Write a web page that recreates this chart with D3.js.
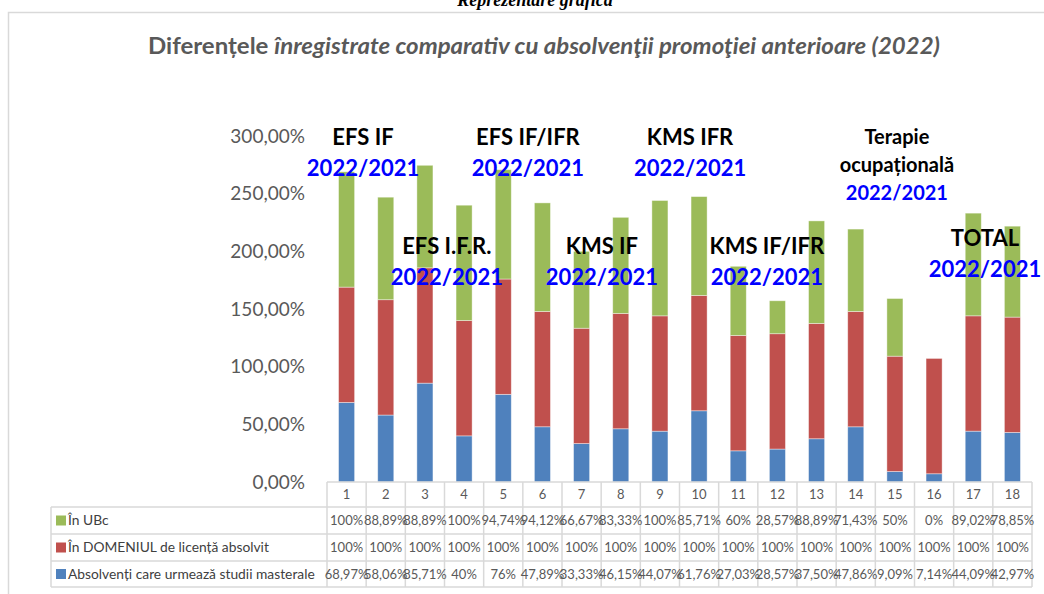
<!DOCTYPE html>
<html>
<head>
<meta charset="utf-8">
<script src="https://cdn.jsdelivr.net/npm/d3@7"></script>
<style>
  body { margin: 0; background: #fff; }
  svg { display: block; font-family: Lato, 'Open Sans', sans-serif; }
</style>
</head>
<body>
<div id="canvas"></div>
<script>
// data
var categories = ['1','2','3','4','5','6','7','8','9','10','11','12','13','14','15','16','17','18'];
var seriesNames = ['Absolvenți care urmează studii masterale', 'În DOMENIUL de licență absolvit', 'În UBc'];
var masterale = [68.97, 58.06, 85.71, 40, 76, 47.89, 33.33, 46.15, 44.07, 61.76, 27.03, 28.57, 37.50, 47.86, 9.09, 7.14, 44.09, 42.97];
var domeniu = [100, 100, 100, 100, 100, 100, 100, 100, 100, 100, 100, 100, 100, 100, 100, 100, 100, 100];
var ubc = [100, 88.89, 88.89, 100, 94.74, 94.12, 66.67, 83.33, 100, 85.71, 60, 28.57, 88.89, 71.43, 50, 0, 89.02, 78.85];
var yTicks = [0, 50, 100, 150, 200, 250, 300];

// text notes over the bars: [lines, category position, value]
var notes = [
  { lines: ['EFS IF', '2022/2021'], at: 0.42, v: 299 },
  { lines: ['EFS I.F.R.', '2022/2021'], at: 2.56, v: 204 },
  { lines: ['EFS IF/IFR', '2022/2021'], at: 4.63, v: 299 },
  { lines: ['KMS IF', '2022/2021'], at: 6.52, v: 204 },
  { lines: ['KMS IFR', '2022/2021'], at: 8.77, v: 299 },
  { lines: ['KMS IF/IFR', '2022/2021'], at: 10.73, v: 204 },
  { lines: ['Terapie', 'ocupațională', '2022/2021'], at: 14.05, v: 299, small: true },
  { lines: ['TOTAL', '2022/2021'], at: 16.3, v: 211 }
];

var chart = {
  colors: ['#4f81bd', '#c0504d', '#9bbb59'],
  grey: '#595959',
  line: '#d9d9d9',

  init: function() {
    chart.svg = d3.select('#canvas').append('svg')
      .attr('width', 1044)
      .attr('height', 594);

    chart.x = d3.scaleBand().domain(categories).range([327, 1032])
      .paddingInner(0.59).paddingOuter(0.295);
    chart.y = d3.scaleLinear().domain([0, 300]).range([482, 136]);

    chart.frame();
    chart.axis();
    chart.bars();
    chart.table();
    chart.annotate();
  },

  frame: function() {
    var svg = chart.svg;
    svg.append('text')
      .attr('x', 535).attr('y', 6)
      .attr('text-anchor', 'middle')
      .style('font-family', "'Liberation Serif', serif")
      .style('font-weight', 'bold').style('font-style', 'italic')
      .style('font-size', '18px')
      .text('Reprezentare grafică');

    // chart area border
    svg.append('path')
      .attr('d', 'M8.5,600 V12.5 H1050')
      .attr('fill', 'none').attr('stroke', chart.line).attr('stroke-width', 1.5);

    var t = svg.append('text')
      .attr('x', 544).attr('y', 54)
      .attr('text-anchor', 'middle')
      .attr('fill', chart.grey)
      .attr('textLength', 792).attr('lengthAdjust', 'spacingAndGlyphs')
      .style('font-weight', 'bold').style('font-size', '22px');
    t.append('tspan').text('Diferențele ');
    t.append('tspan').style('font-style', 'italic')
      .text('înregistrate comparativ cu absolvenţii promoţiei anterioare (2022)');
  },

  axis: function() {
    chart.svg.append('g').selectAll('text').data(yTicks).enter()
      .append('text')
      .attr('x', 305)
      .attr('y', function(d) { return chart.y(d); })
      .attr('dy', '0.35em')
      .attr('text-anchor', 'end')
      .attr('fill', chart.grey)
      .style('font-size', '19px')
      .text(function(d) { return d3.format('.2f')(d).replace('.', ',') + '%'; });
  },

  bars: function() {
    var rows = categories.map(function(c, i) {
      return { cat: c, s0: masterale[i], s1: domeniu[i], s2: ubc[i] };
    });
    var stack = d3.stack().keys(['s0', 's1', 's2'])(rows);

    chart.svg.append('g').selectAll('g').data(stack).enter()
      .append('g').attr('fill', function(d, i) { return chart.colors[i]; })
      .selectAll('rect').data(function(d) { return d; }).enter()
      .append('rect')
      .attr('x', function(d) { return chart.x(d.data.cat); })
      .attr('width', chart.x.bandwidth())
      .attr('y', function(d) { return chart.y(d[1]); })
      .attr('height', function(d) { return chart.y(d[0]) - chart.y(d[1]); })
      .attr('stroke', '#fff').attr('stroke-opacity', 0.5).attr('stroke-width', 0.8);
  },

  fmt: function(v) {
    return (Number.isInteger(v) ? String(v) : v.toFixed(2).replace('.', ',')) + '%';
  },

  table: function() {
    var g = chart.svg.append('g');
    var x = chart.x, step = x.step();
    var left = 327, right = 1032, legendLeft = 51;
    var rowY = [482, 507, 534, 561, 587];
    var tableRows = [ubc, domeniu, masterale];
    var rowColors = [chart.colors[2], chart.colors[1], chart.colors[0]];
    var rowNames = [seriesNames[2], seriesNames[1], seriesNames[0]];

    // horizontal lines
    g.append('line').attr('x1', left).attr('x2', right).attr('y1', rowY[0]).attr('y2', rowY[0]);
    rowY.slice(1).forEach(function(yy) {
      g.append('line').attr('x1', legendLeft).attr('x2', right).attr('y1', yy).attr('y2', yy);
    });
    // vertical lines
    categories.forEach(function(c, i) {
      var xx = left + i * step;
      g.append('line').attr('x1', xx).attr('x2', xx).attr('y1', rowY[0]).attr('y2', rowY[4]);
    });
    g.append('line').attr('x1', right).attr('x2', right).attr('y1', rowY[0]).attr('y2', rowY[4]);
    g.append('line').attr('x1', legendLeft).attr('x2', legendLeft).attr('y1', rowY[1]).attr('y2', rowY[4]);
    g.selectAll('line').attr('stroke', chart.line).attr('stroke-width', 1.5);

    // category labels
    g.selectAll('.cat').data(categories).enter()
      .append('text').attr('class', 'cat')
      .attr('x', function(d) { return x(d) + x.bandwidth() / 2; })
      .attr('y', (rowY[0] + rowY[1]) / 2).attr('dy', '0.35em')
      .attr('text-anchor', 'middle').attr('fill', chart.grey)
      .style('font-size', '13px')
      .text(function(d) { return d; });

    tableRows.forEach(function(vals, r) {
      var cy = (rowY[r + 1] + rowY[r + 2]) / 2;
      g.append('rect')
        .attr('x', 56).attr('y', cy - 5).attr('width', 10).attr('height', 10)
        .attr('fill', rowColors[r]);
      g.append('text')
        .attr('x', 68).attr('y', cy).attr('dy', '0.35em')
        .attr('fill', '#404040').style('font-size', '13.8px')
        .text(rowNames[r]);
      g.selectAll('.v' + r).data(vals).enter()
        .append('text').attr('class', 'v' + r)
        .attr('x', function(d, i) { return x(categories[i]) + x.bandwidth() / 2; })
        .attr('y', cy).attr('dy', '0.35em')
        .attr('text-anchor', 'middle').attr('fill', chart.grey)
        .style('font-size', '13px')
        .text(function(d) { return chart.fmt(d); });
    });
  },

  annotate: function() {
    var pos = d3.scaleLinear().domain([0, categories.length - 1])
      .range([chart.x(categories[0]) + chart.x.bandwidth() / 2,
              chart.x(categories[categories.length - 1]) + chart.x.bandwidth() / 2]);

    var g = chart.svg.append('g');
    notes.forEach(function(n) {
      var size = n.small ? 20 : 22;
      var gap = n.small ? 28 : 31;
      n.lines.forEach(function(l, i) {
        g.append('text')
          .attr('x', pos(n.at))
          .attr('y', chart.y(n.v) + i * gap)
          .attr('dy', '0.35em')
          .attr('text-anchor', 'middle')
          .attr('fill', i === n.lines.length - 1 ? '#0000ff' : '#000')
          .style('font-weight', 'bold')
          .style('font-size', size + 'px')
          .text(l);
      });
    });
  }
};

chart.init();
</script>
</body>
</html>
